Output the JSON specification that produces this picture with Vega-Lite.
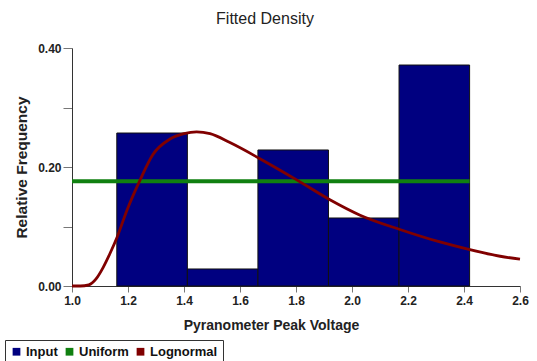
{
  "$schema": "https://vega.github.io/schema/vega-lite/v6.json",
  "width": 448,
  "height": 238,
  "autosize": "none",
  "padding": {"left": 72, "top": 48, "right": 17, "bottom": 75},
  "background": "white",
  "config": {
    "view": {"stroke": null},
    "font": "Liberation Sans"
  },
  "title": {"text": "Fitted Density", "fontSize": 16, "fontWeight": "normal", "font": "Liberation Sans", "color": "#222222", "anchor": "middle", "dx": -31, "offset": 15},
  "datasets": {
    "bins": [
      {"start": 1.16, "end": 1.412, "freq": 0.2571},
      {"start": 1.412, "end": 1.664, "freq": 0.0286},
      {"start": 1.664, "end": 1.916, "freq": 0.2286},
      {"start": 1.916, "end": 2.168, "freq": 0.1143},
      {"start": 2.168, "end": 2.42, "freq": 0.3714}
    ],
    "uniform": [
      {"x0": 1.0, "x1": 2.42, "density": 0.176}
    ],
    "lognormal": [
      {"x": 1.0, "density": 0.0},
      {"x": 1.03, "density": 0.0},
      {"x": 1.06, "density": 0.002},
      {"x": 1.086, "density": 0.012},
      {"x": 1.111, "density": 0.031},
      {"x": 1.136, "density": 0.055},
      {"x": 1.161, "density": 0.082},
      {"x": 1.196, "density": 0.127},
      {"x": 1.243, "density": 0.178},
      {"x": 1.289, "density": 0.221},
      {"x": 1.35, "density": 0.247},
      {"x": 1.40, "density": 0.256},
      {"x": 1.445, "density": 0.259},
      {"x": 1.493, "density": 0.256},
      {"x": 1.564, "density": 0.241},
      {"x": 1.671, "density": 0.214},
      {"x": 1.804, "density": 0.178},
      {"x": 1.921, "density": 0.145},
      {"x": 2.029, "density": 0.119},
      {"x": 2.171, "density": 0.095},
      {"x": 2.314, "density": 0.074},
      {"x": 2.421, "density": 0.061},
      {"x": 2.529, "density": 0.050},
      {"x": 2.6, "density": 0.045}
    ]
  },
  "layer": [
    {
      "data": {"name": "bins"},
      "mark": {"type": "rect", "stroke": "#111111", "strokeWidth": 1},
      "encoding": {
        "x": {
          "field": "start", "type": "quantitative",
          "scale": {"domain": [1.0, 2.6], "nice": false, "zero": false},
          "axis": {
            "title": "Pyranometer Peak Voltage",
            "values": [1.0, 1.2, 1.4, 1.6, 1.8, 2.0, 2.2, 2.4, 2.6],
            "format": ".1f",
            "grid": false,
            "labelFont": "Liberation Sans", "labelFontSize": 12, "labelFontWeight": "bold", "labelColor": "#222222",
            "labelPadding": 3, "labelFlush": false,
            "tickSize": 6, "tickColor": "#777777", "domainColor": "#333333",
            "titleFont": "Liberation Sans", "titleFontSize": 14, "titleFontWeight": "bold", "titleColor": "#222222",
            "titleX": 199, "titleY": 32, "titleAnchor": "middle", "titleBaseline": "top"
          }
        },
        "x2": {"field": "end"},
        "y": {
          "field": "freq", "type": "quantitative",
          "scale": {"domain": [0, 0.4], "nice": false},
          "axis": {
            "title": "Relative Frequency",
            "values": [0, 0.1, 0.2, 0.3, 0.4],
            "labelExpr": "datum.value == 0.1 || datum.value == 0.3 ? '' : format(datum.value, '.2f')",
            "grid": false,
            "labelFont": "Liberation Sans", "labelFontSize": 12, "labelFontWeight": "bold", "labelColor": "#222222",
            "labelPadding": 2,
            "tickSize": 9, "tickColor": "#777777", "domainColor": "#333333",
            "titleFont": "Liberation Sans", "titleFontSize": 15.5, "titleFontWeight": "bold", "titleColor": "#222222",
            "titleX": -51, "titleY": 119, "titleAngle": -90, "titleAnchor": "middle", "titleBaseline": "middle", "titleAlign": "center"
          }
        },
        "y2": {"datum": 0},
        "color": {
          "datum": "Input", "type": "nominal",
          "scale": {"domain": ["Input", "Uniform", "Lognormal"], "range": ["#000080", "#108010", "#800000"]},
          "legend": {
            "title": null,
            "orient": "none",
            "direction": "horizontal",
            "legendX": -67,
            "legendY": 292,
            "symbolType": "square",
            "symbolSize": 60,
            "symbolStrokeWidth": 0,
            "labelFont": "Liberation Sans", "labelFontSize": 13, "labelFontWeight": "bold", "labelColor": "#111111",
            "labelOffset": 3,
            "columnPadding": 5,
            "strokeColor": "#333333",
            "padding": 5
          }
        }
      }
    },
    {
      "data": {"name": "uniform"},
      "mark": {"type": "rule", "strokeWidth": 4},
      "encoding": {
        "x": {"field": "x0", "type": "quantitative"},
        "x2": {"field": "x1"},
        "y": {"field": "density", "type": "quantitative"},
        "color": {"datum": "Uniform", "type": "nominal"}
      }
    },
    {
      "data": {"name": "lognormal"},
      "mark": {"type": "line", "strokeWidth": 2.8, "interpolate": "monotone"},
      "encoding": {
        "x": {"field": "x", "type": "quantitative"},
        "y": {"field": "density", "type": "quantitative"},
        "color": {"datum": "Lognormal", "type": "nominal"}
      }
    }
  ]
}
